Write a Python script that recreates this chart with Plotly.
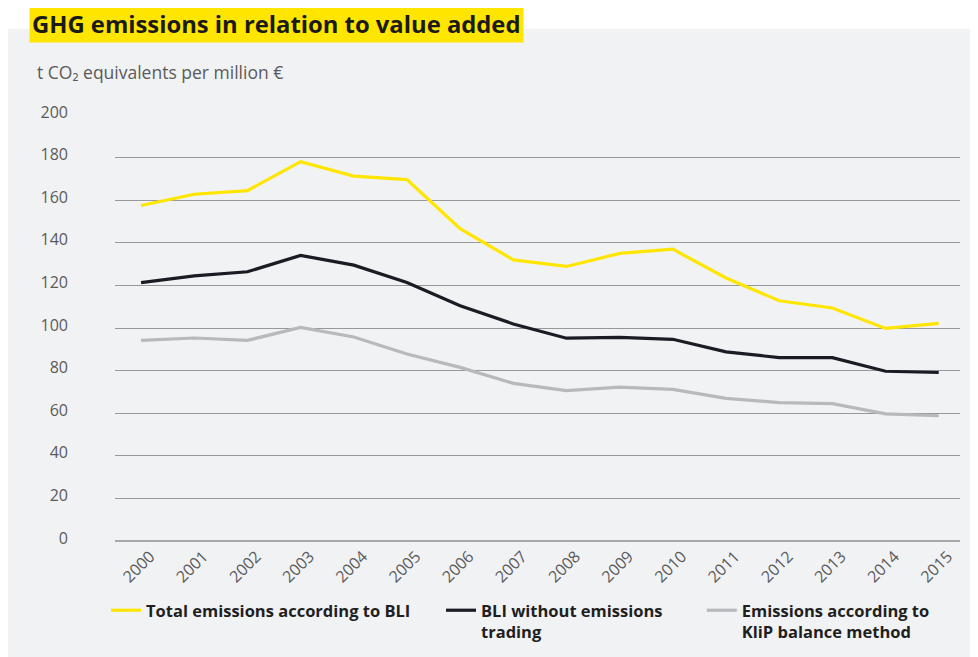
import plotly.graph_objects as go

# Data
years = list(range(2000, 2016))
total_bli = [157.5, 162.8, 164.5, 178.1, 171.3, 169.7, 146.6, 132.0,
             128.9, 135.0, 137.0, 123.5, 112.8, 109.4, 99.8, 102.2]
bli_no_ets = [121.3, 124.5, 126.4, 134.1, 129.5, 121.4, 110.5, 101.9,
              95.2, 95.6, 94.7, 88.8, 86.1, 86.1, 79.7, 79.1]
klip = [94.2, 95.3, 94.2, 100.3, 95.8, 87.8, 81.5, 74.0,
        70.6, 72.2, 71.2, 67.0, 65.0, 64.5, 59.7, 58.8]

NB = "\u00a0"
series_names = ["Total emissions according to BLI" + NB * 6,
                "BLI without emissions" + NB * 8 + "<br>trading",
                "Emissions according to<br>KliP balance method"]
series_colors = ["#ffe600", "#1b1b23", "#b8b9bb"]
y_ticks = list(range(0, 201, 20))

FONT = "Open Sans"
# page body has an 8px margin, so the figure sits at (8, 8)
OFF = 8
W, H = 978 - OFF, 657 - OFF
L, R, T, B = 115 - OFF, 18, 115 - OFF, 657 - 541
pw, ph = W - L - R, H - T - B


def px_x(p):
    # reference pixel -> paper coordinate
    return (p - OFF - L) / pw


def px_y(p):
    return (H - B - (p - OFF)) / ph


fig = go.Figure()
for name, vals, col in zip(series_names, [total_bli, bli_no_ets, klip], series_colors):
    fig.add_trace(go.Scatter(
        x=years, y=vals, name=name, mode="lines",
        line=dict(color=col, width=3.2),
    ))

# grey panel behind everything
fig.add_shape(type="rect", xref="paper", yref="paper",
              x0=px_x(0), x1=px_x(972), y0=px_y(660), y1=px_y(29),
              fillcolor="#f1f2f4", line=dict(width=0), layer="below")

# title in yellow box
fig.add_annotation(
    text="<b>GHG emissions in relation to value added</b>",
    xref="paper", yref="paper", x=px_x(29), y=px_y(24),
    xanchor="left", yanchor="middle", showarrow=False,
    font=dict(family=FONT, size=23.8, color="#1a1a1a"),
    bgcolor="#ffe600", borderpad=2,
)

# unit label
fig.add_annotation(
    text="t CO₂ equivalents per million €",
    xref="paper", yref="paper", x=px_x(35), y=px_y(72),
    xanchor="left", yanchor="middle", showarrow=False,
    font=dict(family=FONT, size=17.5, color="#5a5a5a"),
)

fig.update_layout(
    width=W, height=H,
    margin=dict(l=L, r=R, t=T, b=B, autoexpand=False),
    paper_bgcolor="white",
    plot_bgcolor="rgba(0,0,0,0)",
    font=dict(family=FONT, color="#5a5a5a"),
    xaxis=dict(
        range=[1999.51, 2015.4],
        tickvals=years, ticktext=[str(y) for y in years],
        tickangle=-45, ticklabelshift=9, ticklabelstandoff=2,
        showgrid=False, zeroline=False, showline=False, ticks="",
        tickfont=dict(family=FONT, size=16, color="#5a5a5a"),
    ),
    yaxis=dict(
        range=[0, 200], tickvals=y_ticks,
        showgrid=True, gridcolor="#98989a", gridwidth=1,
        zeroline=True, zerolinecolor="#a8a8aa", zerolinewidth=1.5,
        showline=False, ticks="", ticklabelstandoff=46, ticklabelshift=-3,
        tickfont=dict(family=FONT, size=16, color="#5a5a5a"),
    ),
    legend=dict(
        orientation="h", x=px_x(106), y=px_y(593),
        xanchor="left", yanchor="top", valign="top",
        bgcolor="rgba(0,0,0,0)",
        font=dict(family=FONT, size=16.5, color="#1f1f1f", weight="bold"),
        itemwidth=30, tracegroupgap=0,
    ),
)

fig.write_html("out.html")
